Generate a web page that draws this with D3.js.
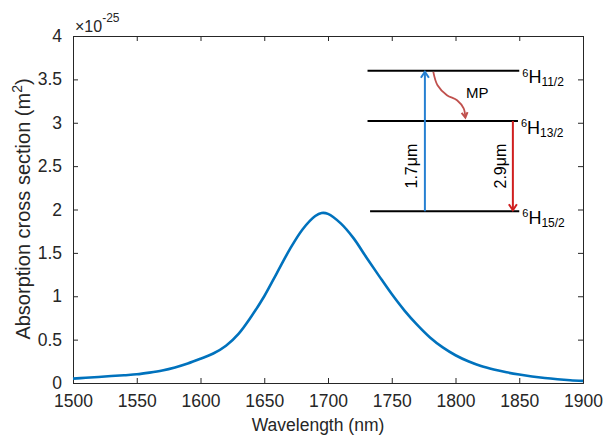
<!DOCTYPE html>
<html>
<head>
<meta charset="utf-8">
<script src="https://cdn.jsdelivr.net/npm/d3@7/dist/d3.min.js"></script>
<style>
  html, body { margin: 0; padding: 0; background: #fff; }
  svg { display: block; font-family: "Liberation Sans", Arial, Helvetica, sans-serif; }
</style>
</head>
<body>
<svg id="chart" width="607" height="438"></svg>
<script>
// ---------- data ----------
const wavelengths = [1500,1510,1520,1530,1540,1550,1560,1570,1580,1590,
                     1600,1610,1620,1630,1640,1650,1660,1670,1680,1690,
                     1695,1700,1710,1720,1730,1740,1750,1760,1770,1780,
                     1790,1800,1810,1820,1830,1840,1850,1860,1870,1880,
                     1890,1900];
const crossSection = [0.05,0.06,0.07,0.08,0.09,0.1,0.12,0.145,0.18,0.225,
                      0.28,0.34,0.43,0.57,0.77,1.0,1.27,1.54,1.77,1.925,
                      1.96,1.95,1.84,1.67,1.45,1.235,1.025,0.835,0.67,0.525,
                      0.41,0.32,0.25,0.195,0.155,0.123,0.097,0.075,0.057,0.043,
                      0.032,0.024];
const xTicks = [1500,1550,1600,1650,1700,1750,1800,1850,1900];
const yTicks = [0,0.5,1,1.5,2,2.5,3,3.5,4];
const yTickLabels = ["0","0.5","1","1.5","2","2.5","3","3.5","4"];

// energy-level inset (in data units)
const levelNames = ["11/2","13/2","15/2"];
const levelValues = [3.6, 3.02, 1.98];
const levelStart = [1731, 1731, 1733];
const levelEnd = [1850, 1849, 1850];
const pumpX = 1776, pumpFrom = 1.98, pumpTo = 3.6;
const emitX = 1845, emitFrom = 3.02, emitTo = 1.98;
const mpPath = [[1782.6,3.587],[1785.9,3.433],[1793.3,3.318],[1801.2,3.26],[1806.4,3.165],[1807.7,3.061]];

// ---------- layout ----------
const svg = d3.select("#chart");
const L = 73, R = 583, T = 36, B = 383;
const x = d3.scaleLinear().domain([1500,1900]).range([L,R]);
const y = d3.scaleLinear().domain([0,4]).range([B,T]);
const axisColor = "#262626";
const tickFont = "17.5px";

// axes
const gx = svg.append("g").attr("transform",`translate(0,${B})`)
  .call(d3.axisBottom(x).tickValues(xTicks).tickSize(-5).tickPadding(12).tickFormat(d3.format("d")));
const gxTop = svg.append("g").attr("transform",`translate(0,${T})`)
  .call(d3.axisTop(x).tickValues(xTicks).tickSize(-5).tickFormat(""));
const gy = svg.append("g").attr("transform",`translate(${L},0)`)
  .call(d3.axisLeft(y).tickValues(yTicks).tickSize(-5).tickPadding(11).tickFormat((d,i)=>yTickLabels[i]));
const gyR = svg.append("g").attr("transform",`translate(${R},0)`)
  .call(d3.axisRight(y).tickValues(yTicks).tickSize(-5).tickFormat(""));
[gx,gxTop,gy,gyR].forEach(g=>{
  g.select(".domain").attr("stroke",axisColor).attr("stroke-width",1);
  g.selectAll(".tick line").attr("stroke",axisColor).attr("stroke-width",1);
  g.selectAll(".tick text").attr("fill",axisColor).style("font-size",tickFont)
   .style("font-family","'Liberation Sans', Arial, sans-serif");
});

// exponent
const ex = svg.append("text").attr("x",75).attr("y",31.5).attr("fill",axisColor)
  .style("font-size","16px");
ex.append("tspan").text("×10");
ex.append("tspan").attr("dy",-10).style("font-size","12px").text("-25");

// axis labels
svg.append("text").attr("x",318).attr("y",431).attr("text-anchor","middle")
  .attr("fill",axisColor).style("font-size","17.5px").text("Wavelength (nm)");
const yl = svg.append("text").attr("transform","translate(30,209) rotate(-90)")
  .attr("text-anchor","middle").attr("fill",axisColor).style("font-size","20px");
yl.append("tspan").text("Absorption cross section (m");
yl.append("tspan").attr("dy",-8).style("font-size","14px").text("2");
yl.append("tspan").attr("dy",8).text(")");

// data line
const data = wavelengths.map((w,i)=>({w, v: crossSection[i]}));
svg.append("path").datum(data)
  .attr("fill","none").attr("stroke","#0072BD").attr("stroke-width",2.6)
  .attr("stroke-linejoin","round")
  .attr("d", d3.line().x(d=>x(d.w)).y(d=>y(d.v)).curve(d3.curveCatmullRom));

// energy levels
levelValues.forEach((v,i)=>{
  svg.append("line").attr("x1",x(levelStart[i])).attr("x2",x(levelEnd[i]))
    .attr("y1",y(v)).attr("y2",y(v)).attr("stroke","#000").attr("stroke-width",2);
  const t = svg.append("text").attr("x",x(levelEnd[i])+3).attr("y",y(v)+12.5).attr("fill","#000");
  t.append("tspan").attr("dy",-6.5).style("font-size","11px").text("6");
  t.append("tspan").attr("dy",6.5).style("font-size","18px").text("H");
  t.append("tspan").attr("dy",3).style("font-size","12px").text(levelNames[i]);
});

function arrowHead(tx, ty, dir, color, hw, hl){
  const [dx,dy] = dir;
  const px = -dy, py = dx;
  const p1 = [tx - dx*hl + px*hw, ty - dy*hl + py*hw];
  const p2 = [tx - dx*hl - px*hw, ty - dy*hl - py*hw];
  svg.append("path").attr("d",`M${p1[0]},${p1[1]}L${tx},${ty}L${p2[0]},${p2[1]}`)
    .attr("fill","none").attr("stroke",color).attr("stroke-width",2).attr("stroke-linejoin","miter");
}

const labelMid = (y(emitFrom)+y(emitTo))/2;

// pump arrow (blue, up)
const blue = "#2680D2";
svg.append("line").attr("x1",x(pumpX)).attr("x2",x(pumpX))
  .attr("y1",y(pumpFrom)).attr("y2",y(pumpTo)+1).attr("stroke",blue).attr("stroke-width",2);
arrowHead(x(pumpX), y(pumpTo)+1, [0,-1], blue, 4, 6);
svg.append("text").attr("transform",`translate(${x(pumpX)-8},${labelMid}) rotate(-90)`)
  .attr("text-anchor","middle").attr("fill","#000").style("font-size","16px").text("1.7μm");

// emission arrow (red, down)
const red = "#D01F1F";
svg.append("line").attr("x1",x(emitX)).attr("x2",x(emitX))
  .attr("y1",y(emitFrom)).attr("y2",y(emitTo)-1).attr("stroke",red).attr("stroke-width",2);
arrowHead(x(emitX), y(emitTo)-1, [0,1], red, 4, 6);
svg.append("text").attr("transform",`translate(${x(emitX)-7},${labelMid}) rotate(-90)`)
  .attr("text-anchor","middle").attr("fill","#000").style("font-size","16px").text("2.9μm");

// MP curved arrow
const mpColor = "#C0504D";
svg.append("path").attr("d", d3.line().x(d=>x(d[0])).y(d=>y(d[1])).curve(d3.curveCatmullRom)(mpPath))
  .attr("fill","none").attr("stroke",mpColor).attr("stroke-width",1.8);
const last = mpPath[mpPath.length-1];
arrowHead(x(last[0]), y(last[1]), [0.15,0.99], mpColor, 3, 5);
svg.append("text").attr("x",466).attr("y",98).attr("fill","#000").style("font-size","15px").text("MP");
</script>
</body>
</html>
